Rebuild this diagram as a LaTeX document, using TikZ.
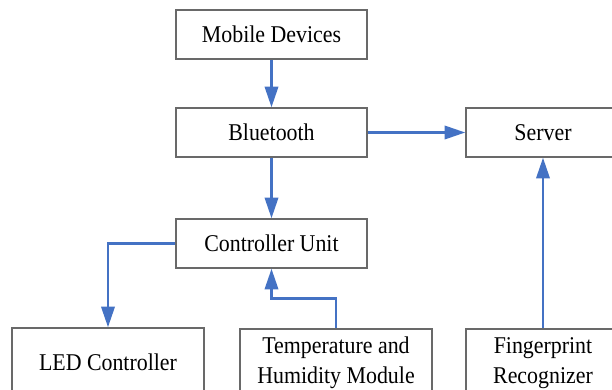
\documentclass[tikz,border=0pt]{standalone}
\usepackage{fontspec}
\setmainfont{Liberation Serif}[FakeStretch=0.91]
\usepackage{tikz}
\usetikzlibrary{arrows.meta}
\definecolor{A}{RGB}{68, 114, 196}
\definecolor{L}{RGB}{105, 105, 105}
\tikzset{
  caja/.style={draw=L, line width=0.85pt, fill=white, minimum width=4.775cm, minimum height=1.225cm, inner sep=0pt, align=center, font=\fontsize{17.1pt}{21.3pt}\selectfont},
  cajabaja/.style={caja, minimum width=4.8cm, minimum height=1.7cm},
  flecha/.style={draw=A, line width=2.1pt, -{Triangle[length=0.52cm, width=0.33cm]}}
}

\begin{document}
\begin{tikzpicture}[x=0.025cm, y=-0.025cm]
   	\clip (0,0) rectangle (612,389);
   	\fill[white] (0,0) rectangle (612,389);

	%Fila superior
   	\node[caja] (movil) at (271.5,34.5) {Mobile Devices};
   	\node[caja] (bt) at (271.5,132.5) {Bluetooth};
   	\node[caja, minimum width=3.85cm] (serv) at (543,132.5) {Server};
   	\node[caja] (ctrl) at (271.5,243.5) {Controller Unit};

	%Fila inferior (cortada por abajo)
   	\node[cajabaja] (led) at (108,362) {LED Controller};
   	\node[cajabaja] (temp) at (336,363) {Temperature and\\Humidity Module};
   	\node[cajabaja, minimum width=3.85cm] (huella) at (543,363) {Fingerprint\\Recognizer};

	%Flechas
   	\draw[flecha] (movil) -- (bt);
   	\draw[flecha] (bt) -- (ctrl);
   	\draw[flecha] (bt) -- (serv);
   	\draw[flecha] (huella) -- (serv);
   	\draw[flecha] (ctrl.west) -| (led.north);
   	\draw[flecha] (temp.north) -- ++(0,-30) -| (ctrl.south);
\end{tikzpicture}
\end{document}
